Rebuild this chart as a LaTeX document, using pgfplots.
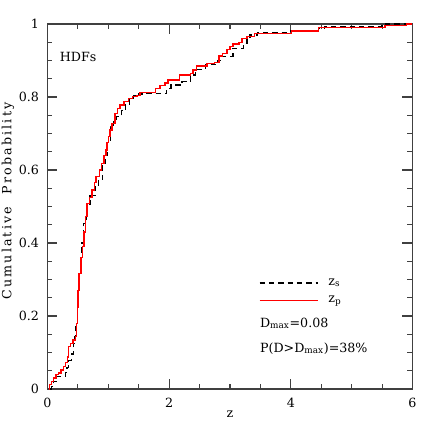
\documentclass[border=0pt]{standalone}
\usepackage{fontspec}
\setmainfont{DejaVu Serif}
\usepackage{pgfplots}
\pgfplotsset{compat=1.18}
\begin{document}
\fontsize{9.5}{11}\selectfont
\begin{tikzpicture}
\begin{axis}[
  name=main,
  scale only axis, width=273.75pt, height=273.75pt,
  at={(0,0)}, anchor=south west,
  xmin=0, xmax=6, ymin=0, ymax=1,
  xtick={0,2,4,6}, minor x tick num=3,
  ytick={0,0.2,0.4,0.6,0.8,1}, minor y tick num=3,
  tick align=inside,
  major tick length=7.5pt, minor tick length=3.75pt,
  every tick/.style={black!75, line width=0.8pt},
  axis line style={black!75, line width=1pt},
  /pgf/number format/assume math mode=true,
  xticklabel style={yshift=-3.5pt},
  yticklabel style={xshift=-3pt},
  xlabel={z}, ylabel={\addfontfeatures{LetterSpace=17}Cumulative\ \ Probability},
  ylabel style={at={(axis description cs:-0.108,0.515)}, anchor=center, inner sep=0pt},
  xlabel style={at={(axis description cs:0.5,-0.0685)}, anchor=center},
  legend style={at={(axis cs:3.47,0.303)}, anchor=north west, draw=none, fill=none,
    inner sep=0pt, row sep=6.75pt, font=\fontsize{9.5}{11}\selectfont,
    nodes={inner sep=0pt},
    /tikz/every odd column/.append style={column sep=7.5pt}},
  legend cell align=left,
  legend image code/.code={\draw[#1] (0pt,0pt) -- (43.5pt,0pt);},
]
\addlegendimage{black, line width=0.9pt, dash pattern=on 4pt off 3pt}
\addlegendentry{z\textsubscript{s}}
\addlegendimage{red, line width=1.2pt}
\addlegendentry{z\textsubscript{p}}
\addplot[const plot, black, line width=0.9pt, dash pattern=on 4pt off 3pt, forget plot] coordinates {
(0.04,0.0) (0.07,0.006) (0.10,0.02) (0.15,0.035) (0.30,0.046) (0.32,0.058)
(0.35,0.077) (0.40,0.096) (0.43,0.125) (0.45,0.143) (0.47,0.18) (0.49,0.225)
(0.50,0.27) (0.51,0.317) (0.54,0.36) (0.56,0.40) (0.59,0.454) (0.64,0.50)
(0.70,0.53) (0.78,0.555) (0.84,0.573) (0.90,0.618) (0.95,0.64) (0.99,0.68)
(1.03,0.719) (1.08,0.733) (1.14,0.746) (1.22,0.764) (1.28,0.78) (1.35,0.795)
(1.42,0.803) (1.50,0.808) (1.60,0.810) (1.96,0.824) (2.03,0.833) (2.21,0.842)
(2.35,0.860) (2.43,0.876) (2.60,0.888) (2.80,0.901) (2.85,0.912) (3.05,0.933)
(3.22,0.947) (3.28,0.96) (3.33,0.970) (3.45,0.976) (3.99,0.982) (4.45,0.988)
(4.55,0.994) (5.50,1.0) (6.0,1.0)
};
\addplot[const plot, red, line width=1pt, forget plot] coordinates {
(0.02,0.0) (0.03,0.012) (0.07,0.02) (0.10,0.03) (0.14,0.04) (0.18,0.044)
(0.22,0.052) (0.26,0.061) (0.30,0.072) (0.33,0.088) (0.35,0.116) (0.38,0.125)
(0.42,0.134) (0.46,0.143) (0.48,0.18) (0.49,0.225) (0.50,0.27) (0.52,0.317)
(0.55,0.36) (0.57,0.39) (0.60,0.43) (0.62,0.472) (0.65,0.509) (0.69,0.525)
(0.73,0.545) (0.77,0.565) (0.80,0.582) (0.85,0.60) (0.89,0.618) (0.93,0.64)
(0.96,0.655) (0.98,0.675) (1.00,0.691) (1.03,0.71) (1.06,0.728) (1.11,0.755)
(1.15,0.768) (1.19,0.778) (1.26,0.788) (1.33,0.796) (1.40,0.801) (1.47,0.805)
(1.52,0.812) (1.77,0.824) (1.85,0.831) (1.93,0.838) (1.98,0.847) (2.17,0.860)
(2.35,0.865) (2.39,0.874) (2.45,0.885) (2.62,0.892) (2.75,0.894) (2.82,0.912)
(2.88,0.919) (2.95,0.930) (3.00,0.938) (3.05,0.945) (3.15,0.950) (3.20,0.96)
(3.28,0.966) (3.40,0.974) (4.01,0.981) (4.45,0.990) (5.55,0.995) (5.90,1.0)
(6.0,1.0)
};
\node[anchor=west, inner sep=0pt] at (axis cs:0.2,0.91) {HDFs};
\node[anchor=west, inner sep=0pt] at (axis cs:3.49,0.18) {D\textsubscript{max}=0.08};
\node[anchor=west, inner sep=0pt] at (axis cs:3.49,0.111) {P(D>D\textsubscript{max})=38\%};
\end{axis}
\path (main.south west) ++(-35.625pt,-35.25pt) coordinate (bl);
\path (main.north east) ++(17.625pt,18pt) coordinate (tr);
\path (bl) rectangle (tr);
\end{tikzpicture}
\end{document}
